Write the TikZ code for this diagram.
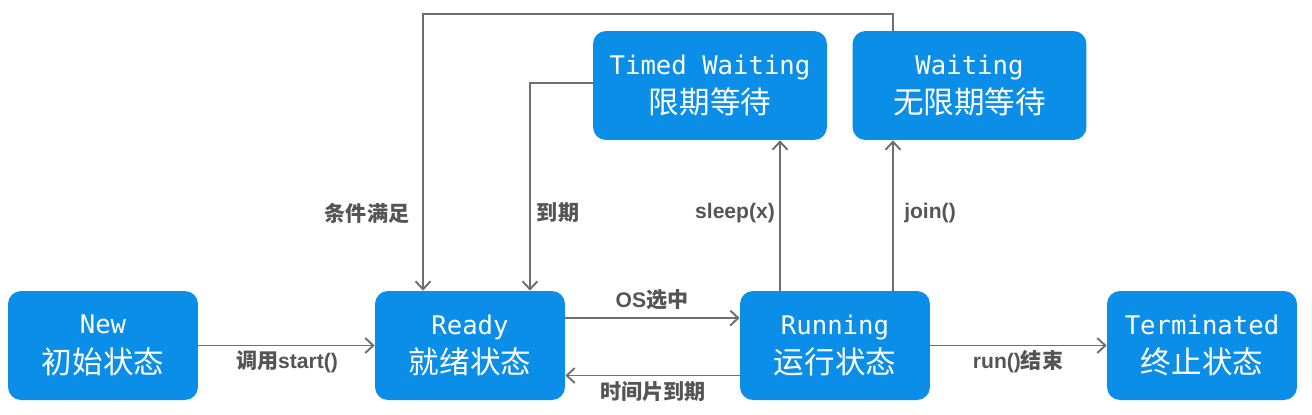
\documentclass[tikz,border=0pt]{standalone}
\usepackage{fontspec}
\setmainfont{Liberation Sans}
\newfontfamily\cjk{Noto Sans CJK SC}
\newfontfamily\cjkbold{Noto Sans CJK SC Bold}
\newfontfamily\monofont{DejaVu Sans Mono}
\usetikzlibrary{arrows.meta}
\definecolor{stateblue}{HTML}{0A8EE8}
\definecolor{linegray}{HTML}{6F6F6F}
\definecolor{labelgray}{HTML}{555555}
\newcommand{\statetext}[2]{{\monofont #1}\\{\cjk\fontsize{17.4}{22.5}\selectfont #2}}
\tikzset{
  state/.style={fill=stateblue, rounded corners=0.26cm, text=white, minimum width=3.8cm,
    minimum height=2.18cm, align=center, inner sep=0pt, font=\fontsize{14.6}{22.5}\selectfont},
  waitstate/.style={state, minimum width=4.68cm},
  flow/.style={draw=linegray, line width=1.1pt, -{Straight Barb[length=1.6mm,width=3mm]}},
  lbl/.style={text=labelgray, font=\fontsize{12}{14}\selectfont\bfseries},
}
\begin{document}
\begin{tikzpicture}[x=0.02cm, y=-0.02cm]
\useasboundingbox (0,0) rectangle (1312,414);

% states
\node[state] (new) at (103,345.5) {\statetext{New}{初始状态}};
\node[state] (ready) at (470,345.5) {\statetext{Ready}{就绪状态}};
\node[state] (running) at (835,345.5) {\statetext{Running}{运行状态}};
\node[state] (term) at (1202,345.5) {\statetext{Terminated}{终止状态}};
\node[waitstate] (timed) at (710,85.5) {\statetext{Timed Waiting}{限期等待}};
\node[waitstate] (waiting) at (969.5,85.5) {\statetext{Waiting}{无限期等待}};

% transitions
\draw[flow] (new) -- (ready);
\draw[flow] ([yshift=0.55cm]ready.east) -- ([yshift=0.55cm]running.west);
\draw[flow] ([yshift=-0.6cm]running.west) -- ([yshift=-0.6cm]ready.east);
\draw[flow] (running) -- (term);
\draw[flow] ([xshift=-1.1cm]running.north) -- ([xshift=-1.1cm]running.north |- timed.south);
\draw[flow] ([xshift=1.16cm]running.north) -- ([xshift=1.16cm]running.north |- waiting.south);
\draw[flow] ([xshift=-1.53cm]waiting.north) -- ++(0,-17) -| ([xshift=-0.94cm]ready.north);
\draw[flow] ([yshift=0.05cm]timed.west) -| ([xshift=1.2cm]ready.north);

% labels
\node[lbl] (lstart) at (287,362) {{\cjkbold 调用}start()};
\node[lbl] (los) at (652,300) {OS{\cjkbold 选中}};
\node[lbl] (lslice) at (653,392) {\cjkbold 时间片到期};
\node[lbl] (lrun) at (1018,362) {run(){\cjkbold 结束}};
\node[lbl] (lsleep) at (735,213) {sleep(x)};
\node[lbl] (ljoin) at (930,213) {join()};
\node[lbl] (lcond) at (367,213) {\cjkbold 条件满足};
\node[lbl] (lexp) at (558,213) {\cjkbold 到期};
\end{tikzpicture}
\end{document}
